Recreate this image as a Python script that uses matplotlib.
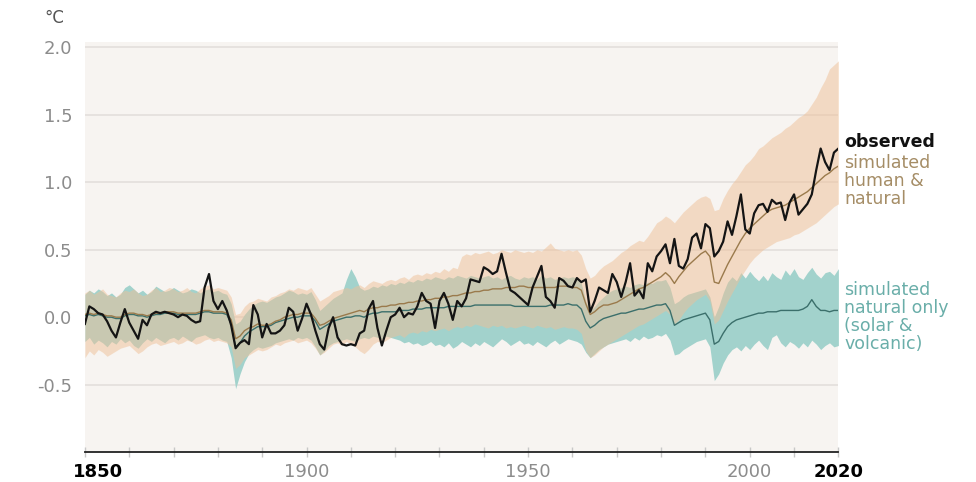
import numpy as np
import matplotlib
matplotlib.use("Agg")
import matplotlib.pyplot as plt
import matplotlib.transforms as mtransforms

# --- datos (anomalía respecto a 1850-1900, °C) ---
years = np.arange(1850, 2021)

observed = [
    -0.05, 0.08, 0.06, 0.03, 0.02, -0.03, -0.10, -0.15, -0.04, 0.06,
    -0.04, -0.10, -0.16, -0.02, -0.06, 0.02, 0.04, 0.03, 0.04, 0.03,
    0.02, 0.00, 0.02, 0.01, -0.02, -0.04, -0.03, 0.22, 0.32, 0.12,
    0.06, 0.12, 0.05, -0.06, -0.23, -0.19, -0.17, -0.20, 0.09, 0.02,
    -0.15, -0.05, -0.12, -0.12, -0.10, -0.06, 0.07, 0.04, -0.10, -0.01,
    0.10, 0.02, -0.10, -0.20, -0.24, -0.08, 0.00, -0.15, -0.20, -0.21,
    -0.20, -0.21, -0.12, -0.10, 0.06, 0.12, -0.08, -0.21, -0.10, 0.00,
    0.02, 0.07, 0.00, 0.03, 0.02, 0.08, 0.18, 0.12, 0.10, -0.08,
    0.12, 0.18, 0.10, -0.02, 0.12, 0.08, 0.14, 0.28, 0.27, 0.26,
    0.37, 0.35, 0.32, 0.34, 0.47, 0.33, 0.20, 0.18, 0.15, 0.12,
    0.09, 0.22, 0.30, 0.38, 0.15, 0.12, 0.07, 0.29, 0.27, 0.23,
    0.22, 0.29, 0.26, 0.28, 0.04, 0.12, 0.22, 0.20, 0.18, 0.32,
    0.26, 0.15, 0.26, 0.40, 0.16, 0.20, 0.14, 0.40, 0.34, 0.45,
    0.49, 0.54, 0.40, 0.58, 0.38, 0.36, 0.43, 0.59, 0.62, 0.51,
    0.69, 0.66, 0.45, 0.49, 0.56, 0.71, 0.61, 0.75, 0.91, 0.65,
    0.62, 0.77, 0.83, 0.84, 0.78, 0.87, 0.84, 0.85, 0.72, 0.85,
    0.91, 0.76, 0.80, 0.84, 0.91, 1.09, 1.25, 1.15, 1.09, 1.22, 1.25,
]

human_mean = [
    0.02, 0.03, 0.02, 0.03, 0.02, 0.01, 0.01, 0.00, 0.00, 0.02,
    0.03, 0.03, 0.02, 0.02, 0.01, 0.02, 0.03, 0.03, 0.04, 0.04,
    0.04, 0.03, 0.03, 0.03, 0.03, 0.03, 0.04, 0.05, 0.05, 0.04,
    0.04, 0.04, 0.03, -0.02, -0.16, -0.14, -0.10, -0.08, -0.07, -0.05,
    -0.06, -0.06, -0.05, -0.03, -0.02, 0.00, 0.01, 0.02, 0.02, 0.03,
    0.03, 0.03, -0.01, -0.06, -0.05, -0.03, -0.01, 0.00, 0.01, 0.02,
    0.03, 0.04, 0.05, 0.04, 0.06, 0.07, 0.07, 0.08, 0.08, 0.09,
    0.09, 0.10, 0.10, 0.11, 0.11, 0.12, 0.12, 0.13, 0.13, 0.14,
    0.14, 0.15, 0.15, 0.16, 0.16, 0.17, 0.18, 0.18, 0.19, 0.19,
    0.20, 0.20, 0.21, 0.21, 0.21, 0.22, 0.22, 0.22, 0.23, 0.23,
    0.22, 0.22, 0.22, 0.22, 0.22, 0.22, 0.22, 0.23, 0.23, 0.23,
    0.22, 0.22, 0.20, 0.10, 0.02, 0.04, 0.07, 0.09, 0.09, 0.10,
    0.11, 0.13, 0.15, 0.17, 0.19, 0.21, 0.22, 0.24, 0.26, 0.28,
    0.30, 0.33, 0.30, 0.25, 0.30, 0.34, 0.38, 0.41, 0.44, 0.47,
    0.49, 0.45, 0.26, 0.25, 0.32, 0.39, 0.45, 0.51, 0.57, 0.62,
    0.66, 0.69, 0.72, 0.75, 0.78, 0.80, 0.81, 0.82, 0.83, 0.85,
    0.87, 0.89, 0.91, 0.93, 0.96, 0.99, 1.02, 1.05, 1.07, 1.10, 1.12,
]

human_hi = [
    0.18, 0.20, 0.17, 0.19, 0.21, 0.17, 0.16, 0.15, 0.18, 0.20,
    0.19, 0.21, 0.18, 0.16, 0.17, 0.20, 0.22, 0.19, 0.20, 0.22,
    0.21, 0.19, 0.20, 0.22, 0.19, 0.18, 0.21, 0.23, 0.24, 0.21,
    0.22, 0.21, 0.20, 0.15, 0.02, 0.03, 0.08, 0.11, 0.12, 0.14,
    0.13, 0.12, 0.15, 0.16, 0.18, 0.19, 0.21, 0.20, 0.22, 0.21,
    0.20, 0.22, 0.17, 0.12, 0.14, 0.16, 0.19, 0.20, 0.21, 0.22,
    0.21, 0.23, 0.24, 0.22, 0.25, 0.27, 0.26, 0.25, 0.27, 0.28,
    0.27, 0.29, 0.30, 0.28, 0.31, 0.32, 0.31, 0.33, 0.32, 0.34,
    0.33, 0.36, 0.34, 0.37, 0.36, 0.45, 0.47, 0.46, 0.48, 0.47,
    0.48, 0.49, 0.47, 0.48, 0.50, 0.49, 0.48, 0.50, 0.49, 0.48,
    0.49, 0.48, 0.50, 0.49, 0.52, 0.55, 0.51, 0.50, 0.49, 0.50,
    0.49, 0.50, 0.46, 0.36, 0.29, 0.31, 0.35, 0.38, 0.40, 0.42,
    0.45, 0.48, 0.50, 0.53, 0.55, 0.57, 0.56, 0.60, 0.65, 0.70,
    0.72, 0.75, 0.73, 0.70, 0.74, 0.78, 0.81, 0.84, 0.87, 0.89,
    0.90, 0.88, 0.79, 0.80, 0.88, 0.94, 0.99, 1.03, 1.08, 1.13,
    1.16, 1.20, 1.25, 1.27, 1.30, 1.33, 1.35, 1.37, 1.40, 1.42,
    1.45, 1.48, 1.50, 1.53, 1.58, 1.63, 1.70, 1.76, 1.84, 1.87, 1.90,
]

human_lo = [
    -0.30, -0.25, -0.28, -0.24, -0.26, -0.29, -0.27, -0.25, -0.23, -0.22,
    -0.21, -0.24, -0.27, -0.25, -0.22, -0.20, -0.19, -0.21, -0.20, -0.19,
    -0.18, -0.20, -0.19, -0.17, -0.18, -0.20, -0.19, -0.17, -0.16, -0.18,
    -0.17, -0.18, -0.19, -0.22, -0.38, -0.35, -0.30, -0.28, -0.26, -0.24,
    -0.25, -0.24, -0.22, -0.20, -0.21, -0.19, -0.18, -0.17, -0.19, -0.18,
    -0.17, -0.19, -0.23, -0.28, -0.26, -0.23, -0.20, -0.19, -0.21, -0.18,
    -0.20, -0.22, -0.25, -0.27, -0.24, -0.20, -0.18, -0.19, -0.17, -0.15,
    -0.14, -0.13, -0.15, -0.12, -0.11, -0.12, -0.10, -0.11, -0.09, -0.10,
    -0.09, -0.08, -0.10, -0.08, -0.07, -0.08, -0.06, -0.07, -0.05, -0.06,
    -0.07, -0.08, -0.06, -0.07, -0.06, -0.08, -0.07, -0.08, -0.07, -0.06,
    -0.07, -0.08, -0.06, -0.07, -0.08, -0.07, -0.09, -0.08, -0.07, -0.08,
    -0.08, -0.09, -0.12, -0.25, -0.30, -0.28, -0.25, -0.22, -0.20, -0.18,
    -0.16, -0.14, -0.12, -0.10, -0.08, -0.06, -0.05, -0.03, -0.01, 0.01,
    0.03, 0.05, 0.02, -0.05, -0.02, 0.03, 0.07, 0.10, 0.13, 0.15,
    0.17, 0.12, -0.05, -0.02, 0.05, 0.12, 0.18, 0.24, 0.30, 0.35,
    0.40, 0.44, 0.47, 0.50, 0.52, 0.54, 0.56, 0.57, 0.58, 0.59,
    0.61, 0.62, 0.64, 0.66, 0.68, 0.70, 0.73, 0.76, 0.79, 0.82, 0.84,
]

natural_mean = [
    0.01, 0.02, 0.01, 0.02, 0.01, 0.00, 0.00, -0.01, -0.01, 0.01,
    0.02, 0.02, 0.01, 0.01, 0.00, 0.01, 0.02, 0.02, 0.03, 0.03,
    0.03, 0.02, 0.02, 0.02, 0.02, 0.02, 0.03, 0.04, 0.04, 0.03,
    0.03, 0.03, 0.02, -0.05, -0.22, -0.19, -0.14, -0.11, -0.09, -0.07,
    -0.07, -0.07, -0.06, -0.04, -0.03, -0.02, -0.01, 0.00, 0.00, 0.01,
    0.01, 0.01, -0.03, -0.09, -0.07, -0.05, -0.03, -0.02, -0.01, 0.00,
    0.00, 0.01, 0.01, 0.00, 0.02, 0.03, 0.03, 0.04, 0.04, 0.04,
    0.04, 0.05, 0.05, 0.05, 0.06, 0.06, 0.06, 0.07, 0.07, 0.07,
    0.07, 0.07, 0.08, 0.08, 0.08, 0.08, 0.08, 0.08, 0.09, 0.09,
    0.09, 0.09, 0.09, 0.09, 0.09, 0.09, 0.09, 0.08, 0.08, 0.08,
    0.08, 0.08, 0.08, 0.08, 0.08, 0.09, 0.09, 0.09, 0.09, 0.10,
    0.09, 0.09, 0.06, -0.03, -0.08, -0.06, -0.03, -0.01, 0.00, 0.01,
    0.02, 0.03, 0.03, 0.04, 0.05, 0.06, 0.06, 0.07, 0.08, 0.09,
    0.09, 0.10, 0.05, -0.06, -0.04, -0.02, -0.01, 0.00, 0.01, 0.02,
    0.03, -0.02, -0.20, -0.18, -0.12, -0.07, -0.04, -0.02, -0.01, 0.00,
    0.01, 0.02, 0.03, 0.03, 0.04, 0.04, 0.04, 0.05, 0.05, 0.05,
    0.05, 0.05, 0.06, 0.08, 0.13, 0.08, 0.05, 0.05, 0.04, 0.05, 0.05,
]

natural_hi = [
    0.17, 0.20, 0.18, 0.21, 0.19, 0.16, 0.18, 0.15, 0.17, 0.22,
    0.24, 0.21, 0.18, 0.20, 0.17, 0.19, 0.23, 0.21, 0.19, 0.20,
    0.22, 0.20, 0.18, 0.19, 0.21, 0.20, 0.18, 0.20, 0.21, 0.19,
    0.20, 0.18, 0.17, 0.10, -0.05, -0.03, 0.02, 0.06, 0.09, 0.11,
    0.12, 0.11, 0.13, 0.15, 0.16, 0.18, 0.20, 0.19, 0.17, 0.18,
    0.17, 0.19, 0.13, 0.05, 0.08, 0.11, 0.14, 0.16, 0.18, 0.28,
    0.36, 0.30, 0.22, 0.20, 0.21, 0.23, 0.22, 0.24, 0.23, 0.25,
    0.24, 0.26, 0.25, 0.27, 0.26, 0.28, 0.27, 0.29, 0.28, 0.30,
    0.29, 0.28, 0.30, 0.29, 0.31, 0.30, 0.29, 0.31, 0.30, 0.29,
    0.30, 0.31, 0.29, 0.30, 0.28, 0.30, 0.31, 0.29, 0.28, 0.30,
    0.29, 0.30, 0.28, 0.31, 0.29, 0.30, 0.28, 0.29, 0.30, 0.29,
    0.30, 0.29, 0.25, 0.12, 0.05, 0.08, 0.12, 0.15, 0.18, 0.20,
    0.21, 0.22, 0.23, 0.22, 0.24, 0.25, 0.24, 0.26, 0.25, 0.27,
    0.27, 0.28, 0.22, 0.10, 0.12, 0.15, 0.17, 0.18, 0.19, 0.20,
    0.21, 0.15, 0.00, 0.08, 0.18, 0.26, 0.30, 0.27, 0.33, 0.29,
    0.34, 0.30, 0.27, 0.31, 0.27, 0.33, 0.30, 0.28, 0.35, 0.31,
    0.36, 0.30, 0.28, 0.33, 0.37, 0.32, 0.29, 0.33, 0.34, 0.31, 0.36,
]

natural_lo = [
    -0.18, -0.15, -0.20, -0.17, -0.19, -0.22, -0.18, -0.20, -0.16, -0.19,
    -0.17, -0.21, -0.23, -0.19, -0.16, -0.18, -0.15, -0.17, -0.19, -0.16,
    -0.15, -0.17, -0.14, -0.16, -0.18, -0.15, -0.14, -0.13, -0.15, -0.16,
    -0.15, -0.17, -0.18, -0.30, -0.53, -0.42, -0.33, -0.27, -0.24, -0.22,
    -0.23, -0.22, -0.21, -0.19, -0.18, -0.17, -0.16, -0.17, -0.15, -0.16,
    -0.15, -0.17, -0.22, -0.28, -0.25, -0.21, -0.19, -0.18, -0.17, -0.16,
    -0.17, -0.18, -0.16, -0.15, -0.16, -0.14, -0.15, -0.16, -0.14, -0.15,
    -0.16, -0.17, -0.19, -0.18, -0.20, -0.19, -0.21, -0.20, -0.18, -0.21,
    -0.20, -0.22, -0.19, -0.23, -0.21, -0.18, -0.20, -0.22, -0.19, -0.21,
    -0.18, -0.20, -0.22, -0.19, -0.16, -0.18, -0.21, -0.19, -0.17, -0.20,
    -0.19, -0.21, -0.18, -0.20, -0.22, -0.19, -0.17, -0.20, -0.18, -0.16,
    -0.17, -0.18, -0.20, -0.26, -0.30, -0.27, -0.24, -0.22, -0.20, -0.19,
    -0.18, -0.17, -0.16, -0.18, -0.15, -0.17, -0.14, -0.16, -0.15, -0.13,
    -0.14, -0.12, -0.17, -0.28, -0.27, -0.24, -0.22, -0.20, -0.18, -0.17,
    -0.16, -0.22, -0.47, -0.42, -0.34, -0.28, -0.24, -0.22, -0.25, -0.21,
    -0.24, -0.20, -0.17, -0.21, -0.24, -0.15, -0.13, -0.19, -0.22, -0.18,
    -0.20, -0.23, -0.19, -0.22, -0.17, -0.20, -0.24, -0.21, -0.19, -0.22, -0.21,
]

yticks = [-0.5, 0.0, 0.5, 1.0, 1.5, 2.0]
xlabel_years = [1850, 1900, 1950, 2000, 2020]

# --- colores ---
bg = '#f7f4f1'
teal_band = '#a2d2cc'
peach_band = '#efc097'
brown_line = '#9a7a4c'
teal_line = '#3b6f6b'

fig = plt.figure(figsize=(9.76, 4.82), dpi=100)
ax = fig.add_axes([0.087, 0.062, 0.772, 0.851])
ax.set_facecolor(bg)

ax.fill_between(years, natural_lo, natural_hi, color=teal_band, lw=0, zorder=2)
ax.fill_between(years, human_lo, human_hi, color=peach_band, alpha=0.5, lw=0, zorder=3)
ax.plot(years, natural_mean, color=teal_line, lw=1.0, zorder=4)
ax.plot(years, human_mean, color=brown_line, lw=1.0, zorder=5)
ax.plot(years, observed, color='#141414', lw=1.6, zorder=6)

ax.set_xlim(1850, 2020)
ax.set_ylim(-1.0, 2.04)

# rejilla horizontal
for yv in yticks:
    ax.axhline(yv, color='#e6e2df', lw=1.4, zorder=1)

for s in ['top', 'right', 'left']:
    ax.spines[s].set_visible(False)
ax.spines['bottom'].set_color('#222222')
ax.spines['bottom'].set_linewidth(1.3)

ax.set_yticks(yticks)
ax.set_yticklabels([f'{v:.1f}' for v in yticks])
ax.tick_params(axis='y', length=0, pad=9, labelsize=13, labelcolor='#8c8c8c')

ax.set_xticks(xlabel_years)
ax.set_xticklabels([str(v) for v in xlabel_years])
ax.set_xticks(np.arange(1860, 2020, 10), minor=True)
ax.tick_params(axis='x', which='both', direction='inout', length=7, width=1,
               color='#c8c8c8', pad=4, labelsize=13, labelcolor='#8c8c8c')

ticks = ax.xaxis.get_major_ticks()
for i in (0, len(ticks) - 1):
    ticks[i].tick1line.set_color('black')
    ticks[i].label1.set_color('black')
    ticks[i].label1.set_fontweight('bold')
offset = mtransforms.ScaledTranslation(13 / 100, 0, fig.dpi_scale_trans)
ticks[0].label1.set_transform(ticks[0].label1.get_transform() + offset)

fig.text(0.056, 0.963, '°C', ha='center', va='center', fontsize=12, color='#555555')

# etiquetas de la derecha
ax.text(2021.3, 1.30, 'observed', fontsize=12.5, fontweight='bold', color='#111111',
        va='center', ha='left', clip_on=False)
ax.text(2021.3, 1.21, 'simulated\nhuman &\nnatural', fontsize=12.5, color='#a58d66',
        va='top', ha='left', linespacing=1.0, clip_on=False)
ax.text(2021.3, 0.27, 'simulated\nnatural only\n(solar &\nvolcanic)', fontsize=12.5,
        color='#6aaea9', va='top', ha='left', linespacing=1.0, clip_on=False)

fig.savefig('out.png', dpi=100)
